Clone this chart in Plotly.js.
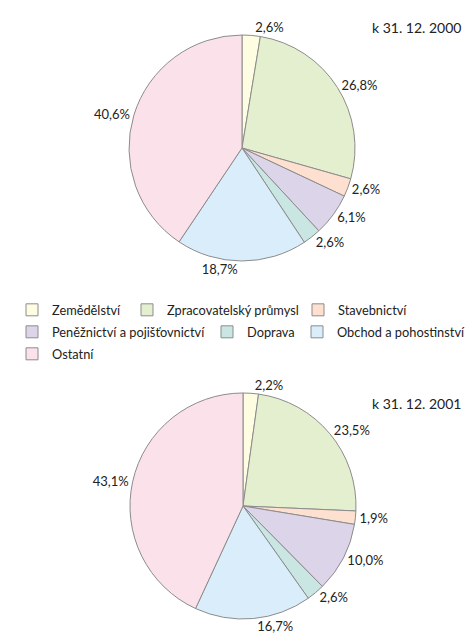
<!DOCTYPE html>
<html>
<head>
<meta charset="utf-8">
<script src="https://cdn.plot.ly/plotly-3.0.1.min.js"></script>
<style>html,body{margin:0;padding:0;background:#fff;}#chart{width:467px;height:634px;}</style>
</head>
<body>
<div id="chart"></div>
<script>
const categories = ["Zemědělství", "Zpracovatelský průmysl", "Stavebnictví", "Peněžnictví a pojišťovnictví", "Doprava", "Obchod a pohostinství", "Ostatní"];
const values2000 = [2.6, 26.8, 2.6, 6.1, 2.6, 18.7, 40.6];
const values2001 = [2.2, 23.5, 1.9, 10.0, 2.6, 16.7, 43.1];
const dateLabels = ["k 31. 12. 2000", "k 31. 12. 2001"];
const colors = ["#fefde2", "#e4efcf", "#fde0cf", "#dcd5ea", "#c9e6e3", "#daedfb", "#fbe1ea"];

const W = 467, H = 634;
const FONT = "Lato, 'Open Sans', sans-serif";
const LINE = {color: '#8c8c8c', width: 1};
const fmt = v => v.toFixed(1).replace('.', ',') + '%';
const dom = (cx, cy, r) => ({x: [(cx - r) / W, (cx + r) / W], y: [1 - (cy + r) / H, 1 - (cy - r) / H]});

function pieTrace(vals, cx, cy, r) {
  return {
    type: 'pie',
    labels: categories,
    values: vals,
    text: vals.map(fmt),
    textinfo: 'text',
    textposition: 'outside',
    sort: false,
    direction: 'clockwise',
    rotation: 0,
    showlegend: false,
    hoverinfo: 'label+text',
    marker: {colors: colors, line: LINE},
    outsidetextfont: {family: FONT, size: 13, color: '#222'},
    domain: dom(cx, cy, r)
  };
}

// legend swatch positions (left edge, row centre) in px – layout only
const legendPos = [[27, 308], [142, 308], [313, 308], [27, 330], [222, 330], [312, 330], [27, 352]];
const legendIds = categories.map((c, i) => i === 0 ? 'legend' : 'legend' + (i + 1));

// legend-only helper pies hidden under the main pie centre, one per category
const helpers = categories.map((c, i) => ({
  type: 'pie',
  labels: [c],
  values: [values2000[i]],
  textinfo: 'none',
  sort: false,
  showlegend: true,
  legend: legendIds[i],
  hoverinfo: 'skip',
  marker: {colors: [colors[i]], line: LINE},
  domain: dom(200, 160, 2)
}));

const data = helpers.concat([
  pieTrace(values2000, 242, 148, 113),
  pieTrace(values2001, 243, 506, 113)
]);

function leg(pos) {
  return {
    orientation: 'h',
    x: (pos[0] - 15) / W, y: 1 - (pos[1] - 13) / H, xanchor: 'left', yanchor: 'top',
    font: {family: FONT, size: 12.8, color: '#222'},
    bgcolor: 'rgba(0,0,0,0)'
  };
}

const layout = {
  width: W, height: H,
  margin: {l: 0, r: 0, t: 0, b: 0, autoexpand: false},
  paper_bgcolor: '#fff',
  font: {family: FONT, size: 13, color: '#222'},
  showlegend: true,
  annotations: [
    {text: dateLabels[0], xref: 'paper', yref: 'paper', x: 463 / W, y: 1 - 28 / H, xanchor: 'right', yanchor: 'middle', showarrow: false, font: {family: FONT, size: 14, color: '#222'}},
    {text: dateLabels[1], xref: 'paper', yref: 'paper', x: 463 / W, y: 1 - 403 / H, xanchor: 'right', yanchor: 'middle', showarrow: false, font: {family: FONT, size: 14, color: '#222'}}
  ]
};
legendIds.forEach((id, i) => { layout[id] = leg(legendPos[i]); });

Plotly.newPlot('chart', data, layout, {displayModeBar: false, staticPlot: true});
</script>
</body>
</html>
